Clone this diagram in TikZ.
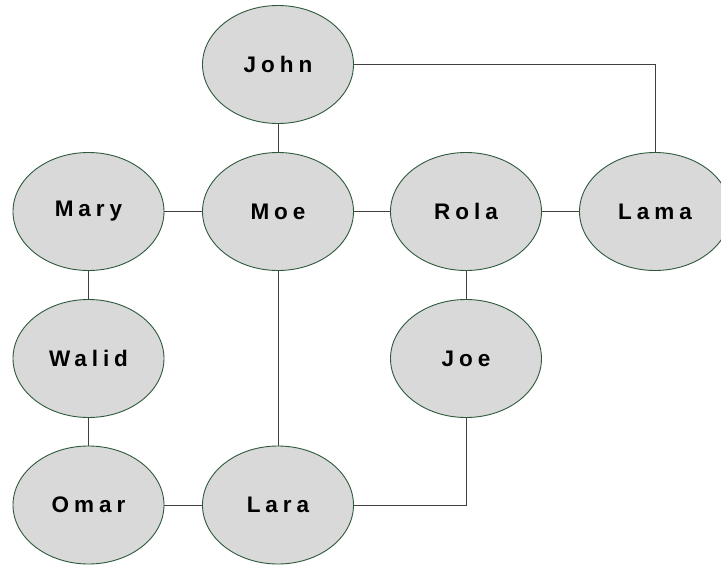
\documentclass[tikz,border=0pt]{standalone}
\usepackage{fontspec}
\newfontfamily\personfont{Liberation Sans}[LetterSpace=22, UprightFont=*, BoldFont=* Bold]
\usetikzlibrary{shapes.geometric}
\definecolor{nodefill}{HTML}{D9D9D9}
\definecolor{nodeedge}{HTML}{2E5A3C}
\definecolor{linkcol}{HTML}{404040}
\tikzset{
  person/.style={ellipse, draw=nodeedge, fill=nodefill, line width=0.9pt,
    minimum width=151pt, minimum height=118pt, inner sep=0pt,
    font=\personfont\bfseries\fontsize{22.5}{26}\selectfont},
  link/.style={draw=linkcol, line width=0.9pt}
}
\begin{document}
\begin{tikzpicture}[x=1pt,y=-1pt]
\useasboundingbox (0,0) rectangle (721,565);
\fill[white] (0,0) rectangle (721,565);

% people
\node[person] (john)  at (278,64.5)   {John};
\node[person] (mary)  at (88.5,211.5) {Mary};
\node[person] (moe)   at (278,211.5)  {Moe};
\node[person] (rola)  at (466,211.5)  {Rola};
\node[person] (lama)  at (655,211.5)  {Lama};
\node[person] (walid) at (88.5,358.5) {Walid};
\node[person] (joe)   at (466,358.5)  {Joe};
\node[person] (omar)  at (88.5,505)   {Omar};
\node[person] (lara)  at (278,505)    {Lara};

% relations
\path[link] (john) -- (moe);
\path[link] (mary) -- (moe);
\path[link] (moe) -- (rola);
\path[link] (rola) -- (lama);
\path[link] (john.east) -| (lama.north);
\path[link] (mary) -- (walid);
\path[link] (walid) -- (omar);
\path[link] (moe) -- (lara);
\path[link] (omar) -- (lara);
\path[link] (rola) -- (joe);
\path[link] (lara.east) -| (joe.south);
\end{tikzpicture}
\end{document}
